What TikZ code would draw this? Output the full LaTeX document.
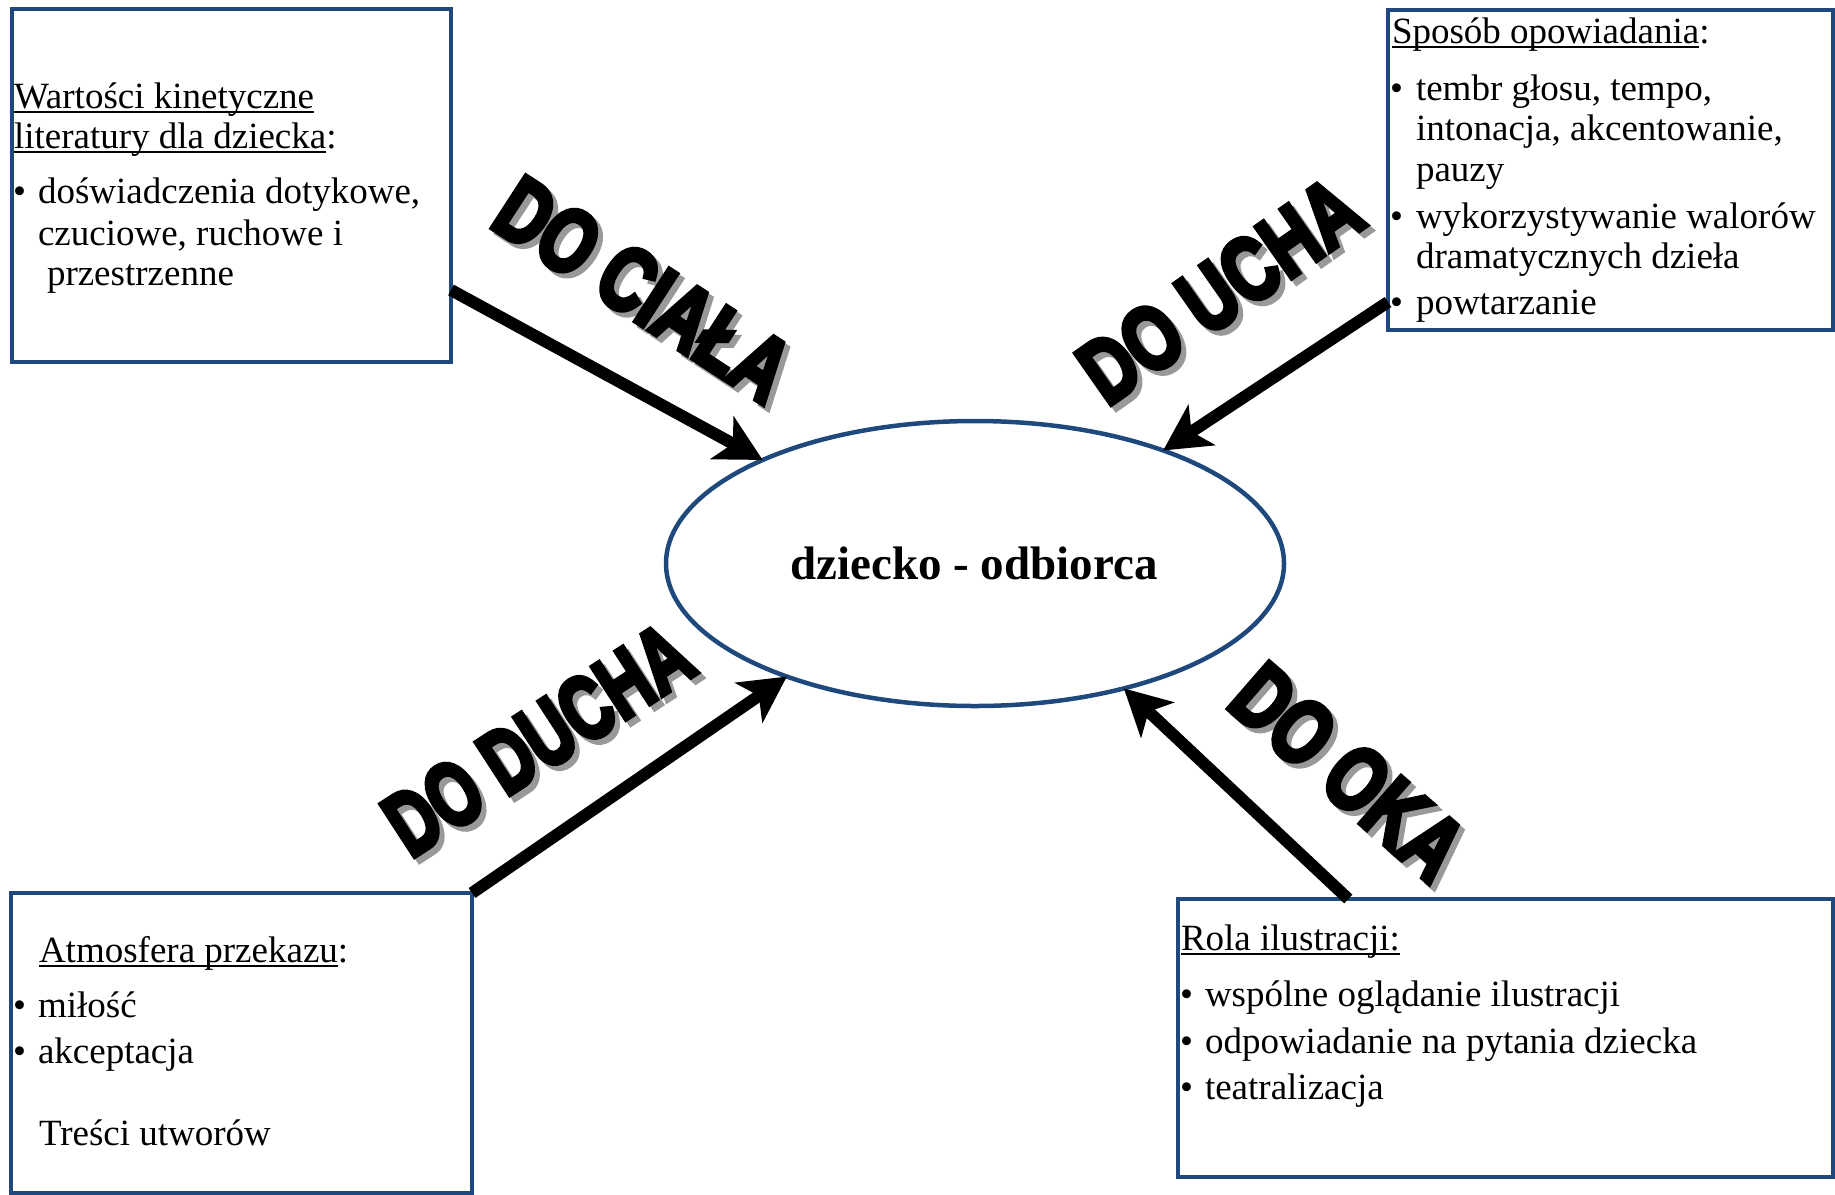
\documentclass[tikz,border=0pt]{standalone}
\usepackage{fontspec}
\setmainfont{Liberation Serif}
\newfontfamily\heavyfont{Liberation Sans}[FakeBold=6]
\usetikzlibrary{arrows.meta,shapes.geometric,calc}
\definecolor{frame}{HTML}{1F497D}
\definecolor{shadowgray}{HTML}{999999}
\newsavebox\ulbox
\newcommand\myul[1]{\sbox\ulbox{#1}\rlap{\rule[-5pt]{\wd\ulbox}{2.5pt}}\usebox\ulbox}
% shadowed heavy label: #1 x-offset, #2 y-offset (local frame), #3 text, #4 x-scale
\newcommand\shlbl[4]{\scalebox{#4}[1]{\makebox[0pt][l]{\hspace*{#1}\raisebox{#2}{\color{shadowgray}#3}}#3}}
\tikzset{
 boxst/.style={draw=frame, line width=4.5pt, rectangle, inner sep=0pt, outer sep=0pt, anchor=north west},
 txt/.style={anchor=base west, inner sep=0pt, outer sep=0pt, font=\fontsize{37}{41}\selectfont},
 bigarrow/.style={line width=12pt, -{Stealth[length=46pt,width=48pt,inset=12pt]}},
 lbl/.style={inner sep=0pt, font=\heavyfont\bfseries\fontsize{90}{90}\selectfont},
}
\begin{document}
\begin{tikzpicture}[x=1pt,y=-1pt]
\useasboundingbox (0,0) rectangle (1835,1194);
% central ellipse
\node[draw=frame, line width=4.5pt, ellipse, minimum width=618pt, minimum height=285pt, inner sep=0pt, outer sep=0pt] (ell) at (975,563.5) {};
\node[font=\bfseries\fontsize{47}{47}\selectfont, inner sep=0pt] (elltxt) at (974,563) {dziecko - odbiorca};
% boxes
\node[boxst, minimum width=439pt, minimum height=353pt] (tl) at (12,9) {};
\node[boxst, minimum width=445pt, minimum height=320pt] (tr) at (1388,10) {};
\node[boxst, minimum width=461pt, minimum height=300pt] (bl) at (11,893) {};
\node[boxst, minimum width=655pt, minimum height=278pt] (br) at (1178,899) {};
% top-left text
\node[txt] (tl1) at (14,108) {\myul{Wartości kinetyczne}};
\node[txt] (tl2) at (14,148) {\myul{literatury dla dziecka}:};
\node[txt] (tl3b) at (13,203) {•};
\node[txt] (tl3) at (38,203) {doświadczenia dotykowe,};
\node[txt] (tl4) at (38,245) {czuciowe, ruchowe i};
\node[txt] (tl5) at (47,285) {przestrzenne};
% top-right text
\node[txt] (tr1) at (1392,43) {\myul{Sposób opowiadania}:};
\node[txt] (tr2b) at (1390,100) {•};
\node[txt] (tr2) at (1416,100) {tembr głosu, tempo,};
\node[txt] (tr3) at (1416,140) {intonacja, akcentowanie,};
\node[txt] (tr4) at (1416,181) {pauzy};
\node[txt] (tr5b) at (1390,228) {•};
\node[txt] (tr5) at (1416,228) {wykorzystywanie walorów};
\node[txt] (tr6) at (1416,268) {dramatycznych dzieła};
\node[txt] (tr7b) at (1390,314) {•};
\node[txt] (tr7) at (1416,314) {powtarzanie};
% bottom-left text
\node[txt] (bl1) at (39,962) {\myul{Atmosfera przekazu}:};
\node[txt] (bl2b) at (13,1017) {•};
\node[txt] (bl2) at (38,1017) {miłość};
\node[txt] (bl3b) at (13,1063) {•};
\node[txt] (bl3) at (38,1063) {akceptacja};
\node[txt] (bl4) at (39,1145) {Treści utworów};
% bottom-right text
\node[txt] (br1) at (1181,950) {\myul{Rola ilustracji:}};
\node[txt] (br2b) at (1180,1006) {•};
\node[txt] (br2) at (1205,1006) {wspólne oglądanie ilustracji};
\node[txt] (br3b) at (1180,1053) {•};
\node[txt] (br3) at (1205,1053) {odpowiadanie na pytania dziecka};
\node[txt] (br4b) at (1180,1099) {•};
\node[txt] (br4) at (1205,1099) {teatralizacja};
% arrows
\draw[bigarrow] ($(tl.north east)!0.796!(tl.south east)$) -- (ell.154);
\draw[bigarrow] ($(tr.north west)!0.9125!(tr.south west)$) -- (ell.31);
\draw[bigarrow] (bl.north east) -- (ell.211);
\draw[bigarrow] ($(br.north west)!0.26!(br.north east)$) -- (ell.320);
% rotated labels with shadows
\node[lbl, rotate=-33] (l1) at (643,290) {\shlbl{8.9pt}{-1.5pt}{DO CIAŁA}{0.76}};
\node[lbl, rotate=35] (l2) at (1222,293) {\shlbl{1.6pt}{-7pt}{DO UCHA}{0.76}};
\node[lbl, rotate=33] (l3) at (540,742) {\shlbl{1.9pt}{-6.9pt}{DO DUCHA}{0.71}};
\node[lbl, rotate=-41] (l4) at (1348,772) {\shlbl{9pt}{-0.5pt}{DO OKA}{0.76}};
\end{tikzpicture}
\end{document}
